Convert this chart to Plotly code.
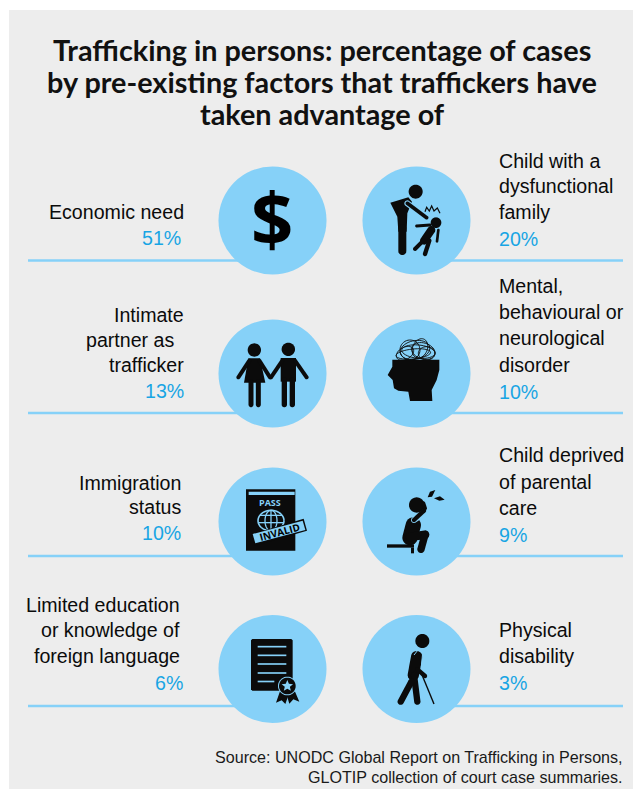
import numpy as np
import plotly.graph_objects as go

# ---------- data ----------
title_lines = ["Trafficking in persons: percentage of cases",
               "by pre-existing factors that traffickers have",
               "taken advantage of"]
left_labels = [["Economic need"], ["Intimate", "partner as ", "trafficker"],
               ["Immigration", "status"],
               ["Limited education", "or knowledge of", "foreign language"]]
left_values = [51, 13, 10, 6]
right_labels = [["Child with a", "dysfunctional", "family"],
                ["Mental,", "behavioural or", "neurological", "disorder"],
                ["Child deprived", "of parental", "care"],
                ["Physical", "disability"]]
right_values = [20, 10, 9, 3]
source_lines = ["Source: UNODC Global Report on Trafficking in Persons,",
                "GLOTIP collection of court case summaries."]

# ---------- layout constants (pixels) ----------
W, H = 633, 789
BG, BLUE, PCT, INK = "#ededed", "#86d1f8", "#18a5e4", "#0b0b0b"
COLX = [272.5, 416.5]
ROWY = [220.5, 373.5, 521.5, 669]
RULEY = [260.5, 413, 556, 706]
L_BASE = [[219, 245], [322, 347, 372, 398], [490, 514, 540], [612, 637, 663, 690]]
L_RIGHT = [[184, 181], [184, 180, 184, 184], [181, 181, 181], [180, 180, 180, 183]]
R_BASE = [[168, 193, 219, 246], [293, 319, 345, 372, 399],
          [462, 489, 515, 542], [637, 663, 690]]
BODY = "Liberation Sans"
BODY_SIZE = 19.6
SOURCE_SIZE = 16.1

shapes, annos = [], []


def txt(x, y, s, size, color=INK, font=BODY, anchor="left", angle=0, bold=False):
    """Place text with y as its baseline."""
    annos.append(dict(x=x, y=y - size * 0.36, text=f"<b>{s}</b>" if bold else s,
                      xref="x", yref="y", showarrow=False, xanchor=anchor,
                      yanchor="middle", textangle=angle, borderpad=0, borderwidth=0,
                      font=dict(family=font, size=size, color=color)))


class Icon:
    """Draws in zoomed (3x) coordinates relative to an origin."""

    def __init__(self, ox, oy):
        self.ox, self.oy = ox, oy

    def p(self, x, y):
        return self.ox + x / 3, self.oy + y / 3

    def _add(self, pts, fill=INK, close=True, line=None, lw=0):
        d = "M" + "L".join(f"{a:.2f},{b:.2f}" for a, b in pts) + ("Z" if close else "")
        shapes.append(dict(type="path", path=d, xref="x", yref="y",
                           fillcolor=fill if close else "rgba(0,0,0,0)",
                           line=dict(color=line or fill, width=lw)))

    def poly(self, pts, fill=INK):
        self._add([self.p(*q) for q in pts], fill)

    def circ(self, x, y, r, fill=INK):
        t = np.linspace(0, 2 * np.pi, 40, endpoint=False)
        self.poly(list(zip(x + r * np.cos(t), y + r * np.sin(t))), fill)

    def ring(self, x, y, rx, ry=None, rot=0, color=INK, lw=1.0, t0=0, t1=2 * np.pi):
        ry = rx if ry is None else ry
        t = np.linspace(t0, t1, 40)
        c, s = np.cos(rot), np.sin(rot)
        xs = rx * np.cos(t)
        ys = ry * np.sin(t)
        pts = [self.p(x + a * c - b * s, y + a * s + b * c) for a, b in zip(xs, ys)]
        self._add(pts, color, close=False, line=color, lw=lw)

    def limb(self, x1, y1, x2, y2, w, fill=INK):
        a = np.arctan2(y2 - y1, x2 - x1)
        r = w / 2
        t1 = np.linspace(a + np.pi / 2, a + 3 * np.pi / 2, 12)
        t2 = np.linspace(a - np.pi / 2, a + np.pi / 2, 12)
        pts = [(x1 + r * np.cos(t), y1 + r * np.sin(t)) for t in t1]
        pts += [(x2 + r * np.cos(t), y2 + r * np.sin(t)) for t in t2]
        self.poly(pts, fill)

    def stroke(self, pts, color=INK, lw=1.0):
        self._add([self.p(*q) for q in pts], color, close=False, line=color, lw=lw)

    def rect(self, x0, y0, x1, y1, fill=INK):
        self.poly([(x0, y0), (x1, y0), (x1, y1), (x0, y1)], fill)


# ---------- panel and rules ----------
shapes.append(dict(type="rect", x0=9, x1=W, y0=10, y1=H, xref="x", yref="y",
                   fillcolor=BG, line=dict(width=0), layer="below"))
for y in RULEY:
    shapes.append(dict(type="line", x0=28, x1=COLX[0], y0=y, y1=y, xref="x", yref="y",
                       line=dict(color=BLUE, width=2.5), layer="below"))
    shapes.append(dict(type="line", x0=COLX[1], x1=623, y0=y, y1=y, xref="x", yref="y",
                       line=dict(color=BLUE, width=2.5), layer="below"))

# ---------- circles ----------
cx = [c for c in COLX for _ in ROWY]
cy = [r for _ in COLX for r in ROWY]
fig = go.Figure(go.Scatter(x=cx, y=cy, mode="markers", hoverinfo="skip",
                           marker=dict(size=108, color=BLUE, line=dict(width=0))))

# ---------- texts ----------
for i, t in enumerate(title_lines):
    txt(322, [60, 92.5, 124][i], t, 28.8, color="#111111", font="Lato", anchor="center", bold=True)
for lab, val, base, rgt in zip(left_labels, left_values, L_BASE, L_RIGHT):
    for s, b, r in zip(lab, base, rgt):
        txt(r, b, s, BODY_SIZE, anchor="right")
    txt(rgt[-1], base[-1], f"{val}%", BODY_SIZE, color=PCT, anchor="right")
for lab, val, base in zip(right_labels, right_values, R_BASE):
    for s, b in zip(lab, base):
        txt(499, b, s, BODY_SIZE)
    txt(499, base[-1], f"{val}%", BODY_SIZE, color=PCT)
txt(623, 763, source_lines[0], SOURCE_SIZE, color="#1a1a1a", anchor="right")
txt(623, 783, source_lines[1], SOURCE_SIZE, color="#1a1a1a", anchor="right")

# ---------- icons ----------
txt(272, 244, "$", 74, color="#000000", font="Open Sans", anchor="center", bold=True)

# parent and child
ic = Icon(210, 150)
ic.circ(617, 125, 21)
ic.poly([(541, 158), (595, 142), (606, 155), (592, 190), (590, 245), (565, 245), (562, 200)])
ic.limb(577, 235, 577, 303, 24)
ic.limb(592, 160, 650, 203, 18, BLUE)
ic.limb(592, 160, 650, 203, 11)
ic.circ(678, 218, 16)
ic.limb(620, 228, 660, 225, 9)
ic.limb(664, 240, 642, 272, 24)
ic.limb(640, 272, 615, 297, 12)
ic.limb(658, 272, 645, 312, 13)
ic.limb(685, 240, 681, 274, 8)
ic.stroke([(645, 185), (650, 172), (658, 183), (665, 168), (672, 183), (682, 174), (690, 190)], lw=1.2)

# couple
ic.circ(133, 600, 20)
ic.poly([(115, 625), (150, 625), (166, 698), (102, 698)])
ic.limb(118, 632, 85, 682, 12)
ic.limb(148, 632, 180, 682, 12)
ic.limb(123, 695, 123, 764, 15)
ic.limb(145, 695, 145, 764, 15)
ic.circ(235, 598, 20)
ic.rect(212, 624, 258, 695)
ic.limb(217, 632, 183, 682, 12)
ic.limb(255, 632, 290, 682, 12)
ic.limb(223, 690, 223, 764, 16)
ic.limb(247, 690, 247, 764, 16)

# head with tangled thoughts
ic.poly([(547, 629), (688, 629), (688, 660), (680, 690), (665, 720), (667, 753), (600, 753),
         (595, 725), (565, 722), (552, 715), (548, 690), (533, 675), (547, 650)])
for ex, ey, rx, ry, rot in [(615, 600, 45, 28, -0.2), (625, 605, 50, 20, 0.1),
                            (600, 600, 30, 30, 0.0), (630, 595, 22, 30, 0.4),
                            (610, 612, 52, 15, -0.1), (640, 603, 36, 24, 0.3),
                            (585, 610, 28, 18, -0.5), (650, 610, 25, 20, 0.0)]:
    ic.ring(ex, ey, rx, ry, rot, lw=0.9)

# passport
ic = Icon(210, 440)
ic.rect(108, 148, 256, 332)
ic.rect(116, 155, 254, 165, BLUE)
ic.ring(183, 242, 39, 31, color=BLUE, lw=1.6)
ic.ring(183, 242, 18, 31, color=BLUE, lw=1.3)
ic.stroke([(183, 211), (183, 272)], BLUE, 1.3)
ic.stroke([(150, 226), (216, 226)], BLUE, 1.3)
ic.stroke([(144, 248), (222, 248)], BLUE, 1.3)
ic.poly([(123, 283), (281, 236), (291, 272), (135, 317)])
ic.poly([(128, 282), (278, 242), (286, 270), (136, 310)], BLUE)
txt(ic.p(207, 0)[0], ic.p(0, 286)[1], "INVALID", 10, color="#000000",
    font="Open Sans", anchor="center", angle=-15, bold=True)
txt(ic.p(181, 0)[0], ic.p(0, 197)[1], "PASS", 9, color=BLUE,
    font="Open Sans", anchor="center", bold=True)

# sitting child
ic.circ(620, 195, 23)
ic.poly([(653, 172), (660, 155), (676, 150), (666, 170)])
ic.poly([(672, 175), (690, 169), (704, 179), (688, 182)])
ic.limb(610, 255, 600, 293, 46)
ic.limb(612, 240, 640, 222, 18, BLUE)
ic.limb(612, 240, 642, 212, 13)
ic.limb(645, 205, 640, 190, 12)
ic.limb(600, 291, 645, 284, 26)
ic.limb(645, 284, 633, 328, 22)
ic.rect(531, 313, 612, 323)
ic.rect(603, 323, 612, 340)

# certificate
ic.poly([(127, 597), (244, 597), (248, 601), (248, 748), (244, 752), (127, 752), (123, 748), (123, 601)])
for y in [620, 646, 672, 699]:
    ic.rect(143, y - 2.5, 229, y + 2.5, BLUE)
ic.rect(143, 722, 193, 727, BLUE)
ic.poly([(212, 748), (198, 788), (215, 781), (226, 792), (238, 758)])
ic.poly([(228, 758), (238, 791), (250, 778), (268, 785), (252, 748)])
ic.circ(232, 738, 28, BLUE)
ic.circ(232, 738, 25)
t = np.arange(10) * np.pi / 5 - np.pi / 2
r = np.where(np.arange(10) % 2 == 0, 18, 8)
ic.poly(list(zip(232 + r * np.cos(t), 738 + r * np.sin(t))), BLUE)

# person with cane
ic.circ(637, 603, 21)
ic.limb(620, 650, 610, 705, 34)
ic.stroke([(612, 645), (624, 630), (638, 638), (634, 682)], BLUE, 1)
ic.limb(612, 705, 622, 785, 19)
ic.limb(604, 725, 572, 785, 19)
ic.limb(622, 688, 645, 708, 13)
ic.stroke([(630, 690), (672, 792)], INK, 1.4)

fig.update_layout(
    width=W, height=H, margin=dict(l=0, r=0, t=0, b=0, pad=0),
    paper_bgcolor="#ffffff", plot_bgcolor="#ffffff", showlegend=False,
    xaxis=dict(range=[0, W], visible=False, fixedrange=True),
    yaxis=dict(range=[H, 0], visible=False, fixedrange=True),
    shapes=shapes, annotations=annos, hovermode=False,
)
fig.write_html("out.html", config=dict(displayModeBar=False),
               post_script="document.body.style.margin='0';"
                           "document.documentElement.style.overflow='hidden';")
